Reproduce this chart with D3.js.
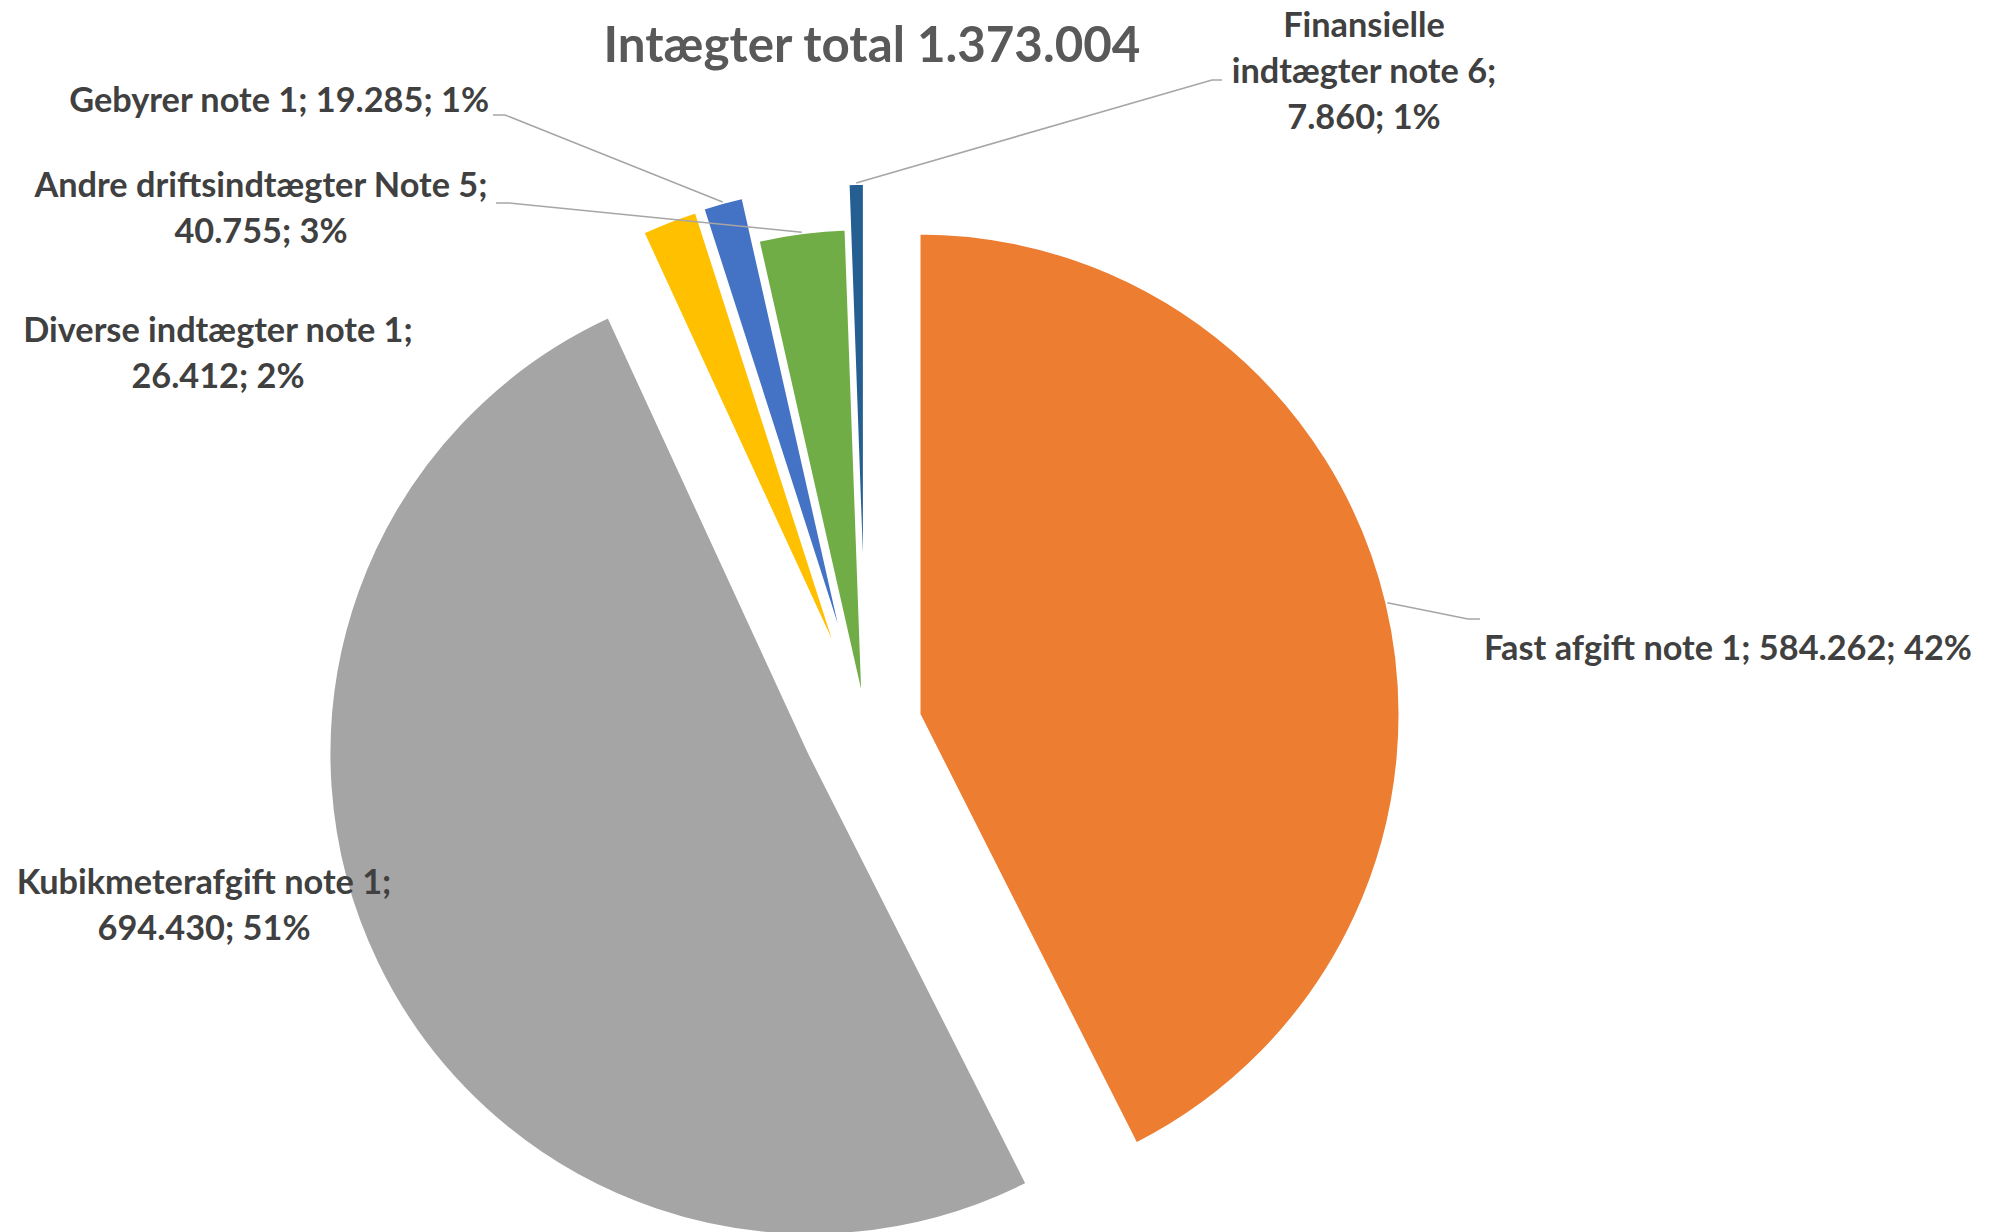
<!DOCTYPE html>
<html>
<head>
<meta charset="utf-8">
<script src="https://cdn.jsdelivr.net/npm/d3@7"></script>
<style>
  html, body { margin: 0; padding: 0; background: #ffffff; }
  svg { display: block; }
</style>
</head>
<body>
<svg id="chart" width="1999" height="1232"></svg>
<script>
// ---------------- data ----------------
const categories = [
  "Fast afgift note 1",
  "Kubikmeterafgift note 1",
  "Diverse indtægter note 1",
  "Gebyrer note 1",
  "Andre driftsindtægter Note 5",
  "Finansielle indtægter note 6"
];
const values = [584262, 694430, 26412, 19285, 40755, 7860];
const percentLabels = [42, 51, 2, 1, 3, 1];   // as printed on the chart
const titlePrefix = "Intægter total";

// ---------------- styles / layout ----------------
const colors = ["#ED7D31", "#A5A5A5", "#FFC000", "#4472C4", "#70AD47", "#255E91"];
const explode = [0.112, 0.128, 0.127, 0.129, 0.035, 0.129];   // fraction of radius
const lineWords = [[6], [3, 2], [4, 2], [5], [4, 2], [1, 3, 2]];
const labelLayout = [
  { x: 1484, y: 660, anchor: "start",  elbow: [1468, 619], end: [1480, 619] },
  { x: 204,  y: 894, anchor: "middle" },
  { x: 218,  y: 342, anchor: "middle" },
  { x: 489,  y: 112, anchor: "end",    elbow: [505, 115],  end: [493, 115] },
  { x: 261,  y: 197, anchor: "middle", elbow: [509, 203],  end: [496, 203] },
  { x: 1364, y: 37,  anchor: "middle", elbow: [1212, 80],  end: [1222, 80] }
];
const center = [866, 727];
const radius = 482;
const fontFamily = "Lato, 'Open Sans', sans-serif";
const labelSize = 34.3;
const titleSize = 49.3;
const lineHeight = 46;

// ---------------- drawing ----------------
const svg = d3.select("#chart");
const locale = d3.formatLocale({ decimal: ",", thousands: ".", grouping: [3], currency: ["", ""] });
const fmt = locale.format(",d");

const pie = d3.pie().sort(null).value(d => d.value).startAngle(0).endAngle(2 * Math.PI);
const rows = categories.map((c, i) => ({ name: c, value: values[i], pct: percentLabels[i], i }));
const arcs = pie(rows);
const arcGen = d3.arc().innerRadius(0).outerRadius(radius);

function vertexOf(a) {
  const mid = (a.startAngle + a.endAngle) / 2;
  const d = explode[a.data.i] * radius;
  return [center[0] + d * Math.sin(mid), center[1] - d * Math.cos(mid)];
}

const gSlices = svg.append("g");
gSlices.selectAll("path")
  .data(arcs)
  .join("path")
  .attr("d", arcGen)
  .attr("transform", a => `translate(${vertexOf(a)[0]},${vertexOf(a)[1]})`)
  .attr("fill", a => colors[a.data.i])
  .attr("stroke", "#ffffff")
  .attr("stroke-width", 4)
  .attr("stroke-linejoin", "miter");

// leader lines
const gLeaders = svg.append("g");
arcs.forEach(a => {
  const L = labelLayout[a.data.i];
  if (!L.elbow) return;
  const v = vertexOf(a);
  const mid = (a.startAngle + a.endAngle) / 2;
  const p0 = [v[0] + radius * Math.sin(mid), v[1] - radius * Math.cos(mid)];
  gLeaders.append("polyline")
    .attr("points", [p0, L.elbow, L.end].map(p => p.join(",")).join(" "))
    .attr("fill", "none")
    .attr("stroke", "#A6A6A6")
    .attr("stroke-width", 1.6);
});

// labels
const gLabels = svg.append("g")
  .attr("font-family", fontFamily)
  .attr("font-weight", 700)
  .attr("font-size", labelSize)
  .attr("fill", "#404040");

arcs.forEach(a => {
  const i = a.data.i;
  const L = labelLayout[i];
  const words = `${a.data.name}; ${fmt(a.data.value)}; ${a.data.pct}%`.split(" ");
  const lines = [];
  let k = 0;
  lineWords[i].forEach(n => { lines.push(words.slice(k, k + n).join(" ")); k += n; });
  const t = gLabels.append("text").attr("text-anchor", L.anchor);
  lines.forEach((ln, j) => {
    t.append("tspan").attr("x", L.x).attr("y", L.y + j * lineHeight).text(ln);
  });
});

// title
svg.append("text")
  .attr("x", 872)
  .attr("y", 62)
  .attr("text-anchor", "middle")
  .attr("font-family", fontFamily)
  .attr("font-weight", 700)
  .attr("font-size", titleSize)
  .attr("fill", "#595959")
  .text(`${titlePrefix} ${fmt(d3.sum(values))}`);
</script>
</body>
</html>
